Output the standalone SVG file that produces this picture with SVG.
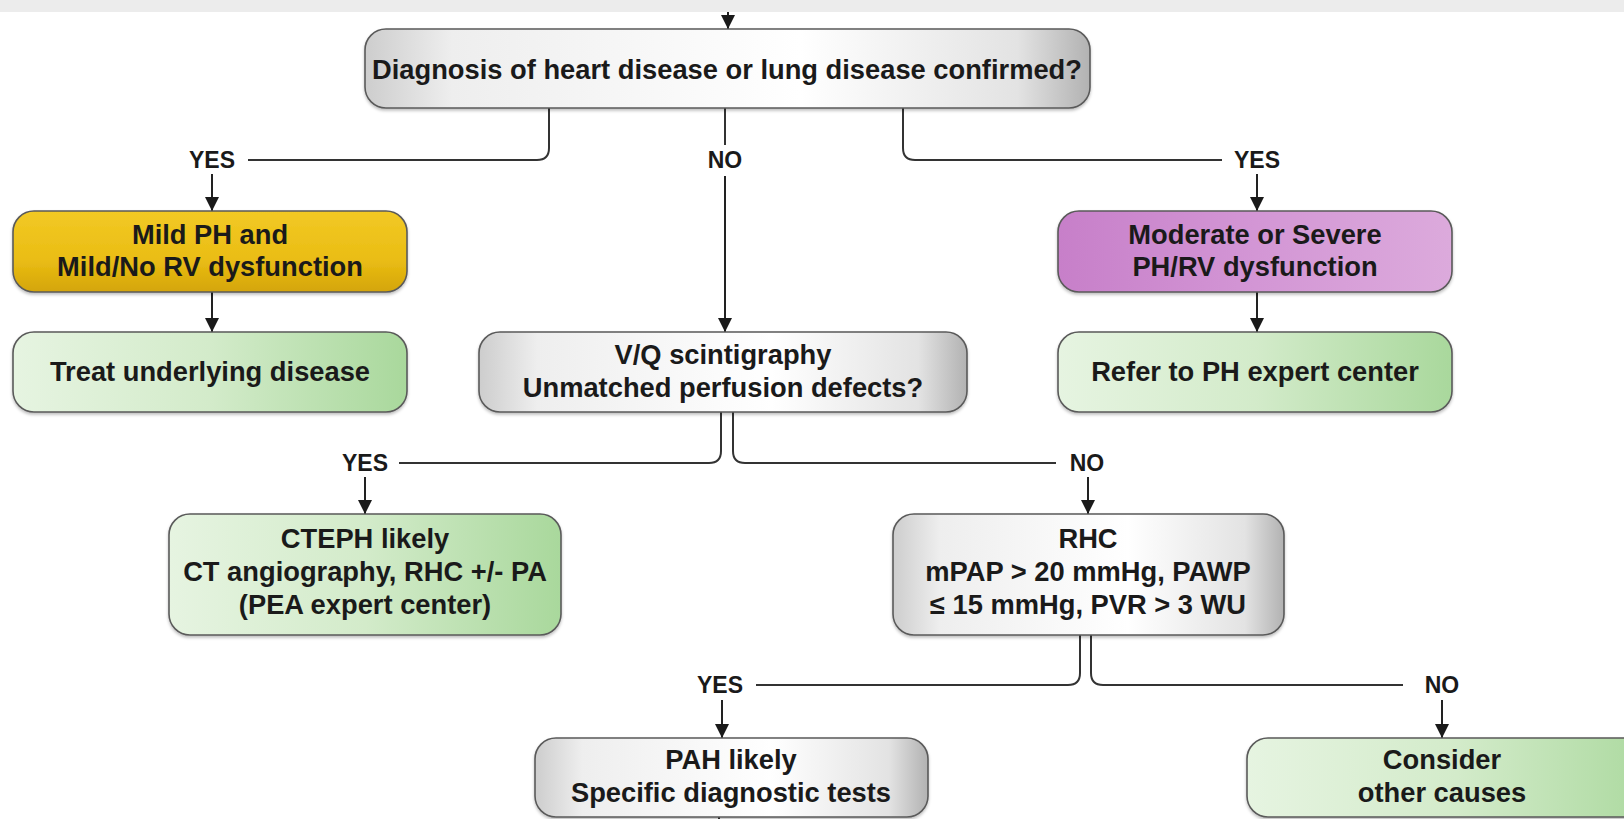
<svg xmlns="http://www.w3.org/2000/svg" width="1624" height="819" viewBox="0 0 1624 819">
<style>
.box{stroke:#5a5a5a;stroke-width:1.6;filter:url(#sh)}
.t{font-family:"Liberation Sans",Arial,sans-serif;font-weight:bold;font-size:27.3px;fill:#1a1a1a;text-anchor:middle}
.lb{font-family:"Liberation Sans",Arial,sans-serif;font-weight:bold;font-size:23px;fill:#1a1a1a;text-anchor:middle}
.c{fill:none;stroke:#333;stroke-width:2}
.a{fill:none;stroke:#222;stroke-width:2;marker-end:url(#ah)}
</style>
<defs>
<marker id="ah" viewBox="0 0 13 13" refX="13" refY="6.5" markerWidth="14" markerHeight="14" markerUnits="userSpaceOnUse" orient="auto">
<path d="M0,0 L13,6.5 L0,13 z" fill="#1a1a1a"/>
</marker>
<filter id="sh" x="-5%" y="-10%" width="110%" height="130%">
<feDropShadow dx="0" dy="2" stdDeviation="1.5" flood-color="#000" flood-opacity="0.25"/>
</filter>
<linearGradient id="grey" x1="0" y1="0" x2="1" y2="0">
<stop offset="0" stop-color="#cdcdcd"/>
<stop offset="0.12" stop-color="#eeeeee"/>
<stop offset="0.6" stop-color="#ffffff"/>
<stop offset="0.9" stop-color="#e3e3e3"/>
<stop offset="1" stop-color="#b2b2b2"/>
</linearGradient>
<linearGradient id="yel" x1="0" y1="0" x2="0" y2="1">
<stop offset="0" stop-color="#f2c925"/>
<stop offset="0.6" stop-color="#eabd14"/>
<stop offset="1" stop-color="#d4a50a"/>
</linearGradient>
<linearGradient id="pur" x1="0" y1="0" x2="1" y2="0">
<stop offset="0" stop-color="#c77fc9"/>
<stop offset="0.5" stop-color="#d396d5"/>
<stop offset="1" stop-color="#dcaadc"/>
</linearGradient>
<linearGradient id="grn" x1="0" y1="0" x2="1" y2="0">
<stop offset="0" stop-color="#e6f4e1"/>
<stop offset="0.5" stop-color="#d3ebca"/>
<stop offset="1" stop-color="#a9d89c"/>
</linearGradient>
</defs>
<rect x="0" y="0" width="1624" height="819" fill="#ffffff"/>
<rect x="0" y="0" width="1624" height="12" fill="#ececec"/>

<g id="connectors">
<line class="a" x1="728" y1="12" x2="728" y2="29"/>
<path class="c" d="M549 108 V148 Q549 160 537 160 H248"/>
<path class="c" d="M903 108 V148 Q903 160 915 160 H1222"/>
<line class="c" x1="725" y1="108" x2="725" y2="145"/>
<line class="a" x1="725" y1="176" x2="725" y2="332"/>
<line class="a" x1="212" y1="174" x2="212" y2="211"/>
<line class="a" x1="212" y1="292" x2="212" y2="332"/>
<line class="a" x1="1257" y1="174" x2="1257" y2="211"/>
<line class="a" x1="1257" y1="292" x2="1257" y2="332"/>
<path class="c" d="M721 412 V451 Q721 463 709 463 H399"/>
<path class="c" d="M733 412 V451 Q733 463 745 463 H1056"/>
<line class="a" x1="365" y1="477" x2="365" y2="514"/>
<line class="a" x1="1088" y1="477" x2="1088" y2="514"/>
<path class="c" d="M1080 635 V673 Q1080 685 1068 685 H756"/>
<path class="c" d="M1091 635 V673 Q1091 685 1103 685 H1403"/>
<line class="a" x1="722" y1="700" x2="722" y2="738"/>
<line class="a" x1="1442" y1="700" x2="1442" y2="738"/>
<line class="c" x1="719" y1="816" x2="719" y2="819"/>
<text class="lb" x="212" y="168">YES</text>
<text class="lb" x="725" y="168">NO</text>
<text class="lb" x="1257" y="168">YES</text>
<text class="lb" x="365" y="471">YES</text>
<text class="lb" x="1087" y="471">NO</text>
<text class="lb" x="720" y="693">YES</text>
<text class="lb" x="1442" y="693">NO</text>
</g>

<g id="n-diagnosis">
<rect class="box" x="365" y="29" width="725" height="79" rx="21" fill="url(#grey)"/>
<text class="t" x="727" y="79" font-size="27.4">Diagnosis of heart disease or lung disease confirmed?</text>
</g>
<g id="n-mild">
<rect class="box" x="13" y="211" width="394" height="81" rx="21" fill="url(#yel)"/>
<text class="t" x="210" y="244">Mild PH and</text>
<text class="t" x="210" y="276">Mild/No RV dysfunction</text>
</g>
<g id="n-treat">
<rect class="box" x="13" y="332" width="394" height="80" rx="21" fill="url(#grn)"/>
<text class="t" x="210" y="381">Treat underlying disease</text>
</g>
<g id="n-severe">
<rect class="box" x="1058" y="211" width="394" height="81" rx="21" fill="url(#pur)"/>
<text class="t" x="1255" y="244">Moderate or Severe</text>
<text class="t" x="1255" y="276">PH/RV dysfunction</text>
</g>
<g id="n-refer">
<rect class="box" x="1058" y="332" width="394" height="80" rx="21" fill="url(#grn)"/>
<text class="t" x="1255" y="381">Refer to PH expert center</text>
</g>
<g id="n-vq">
<rect class="box" x="479" y="332" width="488" height="80" rx="21" fill="url(#grey)"/>
<text class="t" x="723" y="364">V/Q scintigraphy</text>
<text class="t" x="723" y="397">Unmatched perfusion defects?</text>
</g>
<g id="n-cteph">
<rect class="box" x="169" y="514" width="392" height="121" rx="21" fill="url(#grn)"/>
<text class="t" x="365" y="548">CTEPH likely</text>
<text class="t" x="365" y="581" font-size="25">CT angiography, RHC +/- PA</text>
<text class="t" x="365" y="614">(PEA expert center)</text>
</g>
<g id="n-rhc">
<rect class="box" x="893" y="514" width="391" height="121" rx="21" fill="url(#grey)"/>
<text class="t" x="1088" y="548">RHC</text>
<text class="t" x="1088" y="581">mPAP &gt; 20 mmHg, PAWP</text>
<text class="t" x="1088" y="614">≤ 15 mmHg, PVR &gt; 3 WU</text>
</g>
<g id="n-pah">
<rect class="box" x="535" y="738" width="393" height="79" rx="21" fill="url(#grey)"/>
<text class="t" x="731" y="769">PAH likely</text>
<text class="t" x="731" y="802">Specific diagnostic tests</text>
</g>
<g id="n-other">
<rect class="box" x="1247" y="738" width="420" height="79" rx="21" fill="url(#grn)"/>
<text class="t" x="1442" y="769">Consider</text>
<text class="t" x="1442" y="802">other causes</text>
</g>
</svg>
